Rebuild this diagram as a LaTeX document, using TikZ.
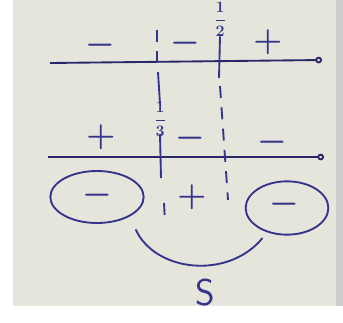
\documentclass[tikz,border=0pt]{standalone}
\usepackage{amsmath}
\usepackage{tikz}
\usetikzlibrary{positioning, arrows.meta, shapes.geometric}
\definecolor{ink}{RGB}{52,52,140}
\definecolor{paper}{RGB}{229,229,219}

\begin{document}
\begin{tikzpicture}[
        x=0.75pt, y=-0.75pt,
        every node/.style={text=ink, inner sep=1pt},
        sign/.style={font=\fontsize{24}{24}\selectfont\boldmath},
        frac/.style={font=\large\boldmath},
        axis/.style={-{Circle[open, length=5pt, width=5pt]}, line width=1.4pt, draw=ink!75!black},
        rootline/.style={line width=1.4pt, draw=ink},
        dashline/.style={line width=1.4pt, draw=ink, dash pattern=on 9pt off 7pt},
        ring/.style={ellipse, draw=ink, line width=1.4pt, minimum width=70pt, minimum height=39pt},
        line/.style={line width=1.4pt, draw=ink}
    ]
        % paper
        \fill[white] (0,0) rectangle (343,322);
        \fill[paper] (13,0) rectangle (336,306);
        \fill[gray!40] (336,0) rectangle (343,306);
        \useasboundingbox (0,0) rectangle (343,322);

        % axes
        \coordinate (a1) at (50,63);
        \coordinate (b1) at (322,60);
        \coordinate (a2) at (48,157);
        \coordinate (b2) at (324,157);
        \draw[axis] (a1) -- (b1);
        \draw[axis] (a2) -- (b2);

        % roots
        \node[frac, inner sep=0pt] (half) at (220,19) {$\dfrac{1}{2}$};
        \node[frac, fill=paper, inner sep=0pt] (third) at (160,119) {$\dfrac{1}{3}$};
        \draw[dashline] (157,30) -- (157,64);
        \draw[rootline] (158,72) -- (160,104);
        \draw[rootline] (160,134) -- (161,178);
        \draw[dashline] (164,203) -- (165,222);
        \draw[rootline] (half.south) -- (219,78);
        \draw[dashline] (220,86) -- (228,200);

        % signs of the first factor
        \node[sign] (s11) at (100,45) {$-$};
        \node[sign] (s12) at (185,43) {$-$};
        \node[sign] (s13) at (268,42) {$+$};

        % signs of the second factor
        \node[sign] (s21) at (101,137) {$+$};
        \node[sign] (s22) at (190,138) {$-$};
        \node[sign] (s23) at (272,142) {$-$};

        % product
        \node[sign] (p1) at (97,195) {$-$};
        \node[sign] (p2) at (192,197) {$+$};
        \node[sign] (p3) at (284,204) {$-$};
        \node[ring] (o1) at (97,197) {};
        \node[ring, minimum width=62pt, minimum height=40pt] (o3) at (287,208) {};

        % answer
        \node[font=\fontsize{28}{28}\selectfont\sffamily] (ans) at (205,293) {S};
        \draw[line] ([shift={(12,10)}]o1.320) .. controls (155,272) and (228,280) .. ([shift={(-7,5)}]o3.235);
\end{tikzpicture}
\end{document}
